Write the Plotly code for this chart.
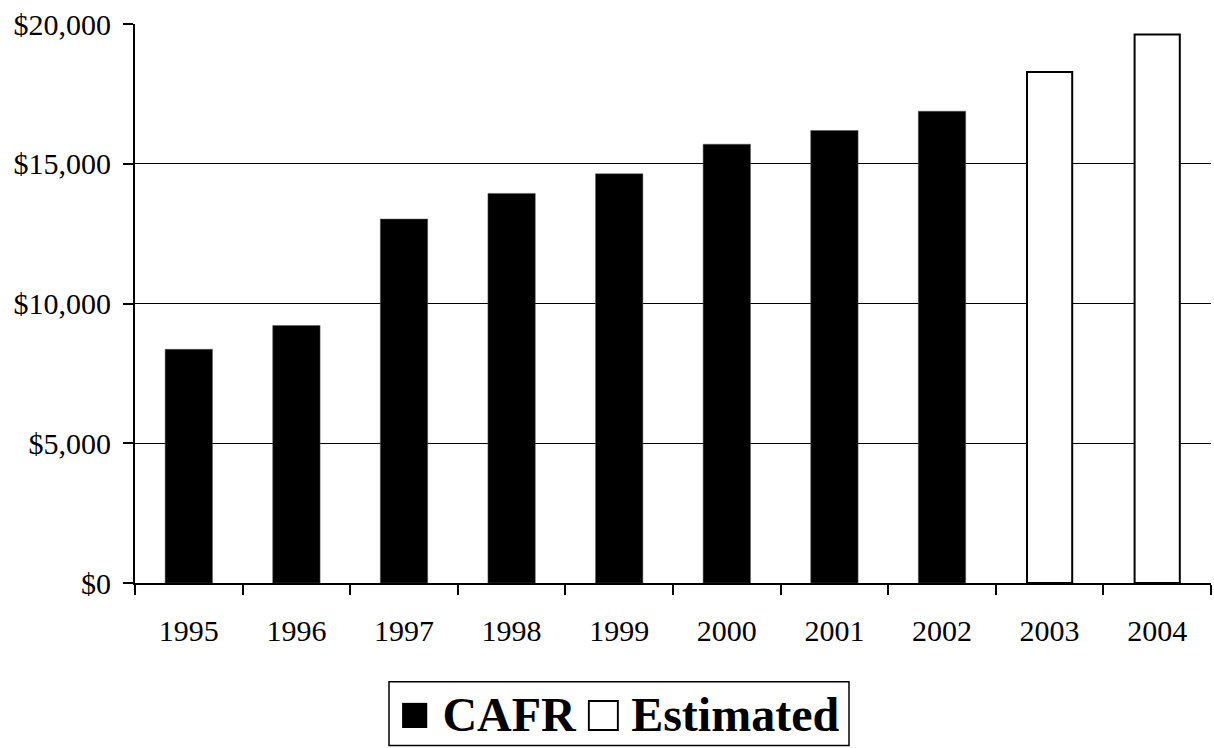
import plotly.graph_objects as go

# Annual values, in dollars
years = ["1995", "1996", "1997", "1998", "1999", "2000", "2001", "2002", "2003", "2004"]
cafr_years = ["1995", "1996", "1997", "1998", "1999", "2000", "2001", "2002"]
cafr_values = [8360, 9210, 13020, 13940, 14640, 15700, 16190, 16880]
est_years = ["2003", "2004"]
est_values = [18280, 19620]

W, H = 1214, 748
L, R, T, B = 135, 3, 23.5, 164.7
FONT = "Liberation Serif"

fig = go.Figure()
fig.add_trace(go.Bar(
    x=cafr_years, y=cafr_values, name="CAFR",
    marker=dict(color="black", line=dict(color="#555", width=0.5)),
    width=0.44, showlegend=False,
))
fig.add_trace(go.Bar(
    x=est_years, y=est_values, name="Estimated",
    marker=dict(color="white", line=dict(color="black", width=2)),
    width=0.42, showlegend=False,
))

pw = W - L - R
ph = H - T - B


def px_x(v):
    return (v - L) / pw


def px_y(v):
    return (H - B - v) / ph


# Legend frame and text
fig.add_shape(type="rect", xref="paper", yref="paper",
              x0=px_x(389), x1=px_x(849), y0=px_y(746), y1=px_y(682.3),
              line=dict(color="black", width=1.5), fillcolor="white")
fig.add_annotation(
    xref="paper", yref="paper", x=px_x(619), y=px_y(714),
    xanchor="center", yanchor="middle", showarrow=False,
    text="<span style='font-size:52px'>■</span> CAFR <span style='font-size:52px'>□</span> Estimated",
    font=dict(family=FONT, size=48, color="black", weight="bold"),
)

fig.update_layout(
    width=W, height=H,
    margin=dict(l=L, r=R, t=T, b=B, pad=0),
    paper_bgcolor="white", plot_bgcolor="white",
    barmode="overlay",
    font=dict(family=FONT, size=30, color="black"),
    xaxis=dict(
        type="category", categoryorder="array", categoryarray=years,
        showline=True, linecolor="black", linewidth=2,
        ticks="outside", tickson="boundaries", ticklen=10, tickwidth=2, tickcolor="black",
        showgrid=False, zeroline=False,
        tickfont=dict(family=FONT, size=30, color="black"),
        ticklabelstandoff=20,
    ),
    yaxis=dict(
        range=[0, 20000], dtick=5000, tickprefix="$", tickformat=",",
        showline=True, linecolor="black", linewidth=2,
        ticks="outside", ticklen=10, tickwidth=2, tickcolor="black",
        showgrid=True, gridcolor="black", gridwidth=1, zeroline=False,
        tickfont=dict(family=FONT, size=30, color="black"),
        ticklabelstandoff=6,
    ),
)

fig.write_html("out.html")
